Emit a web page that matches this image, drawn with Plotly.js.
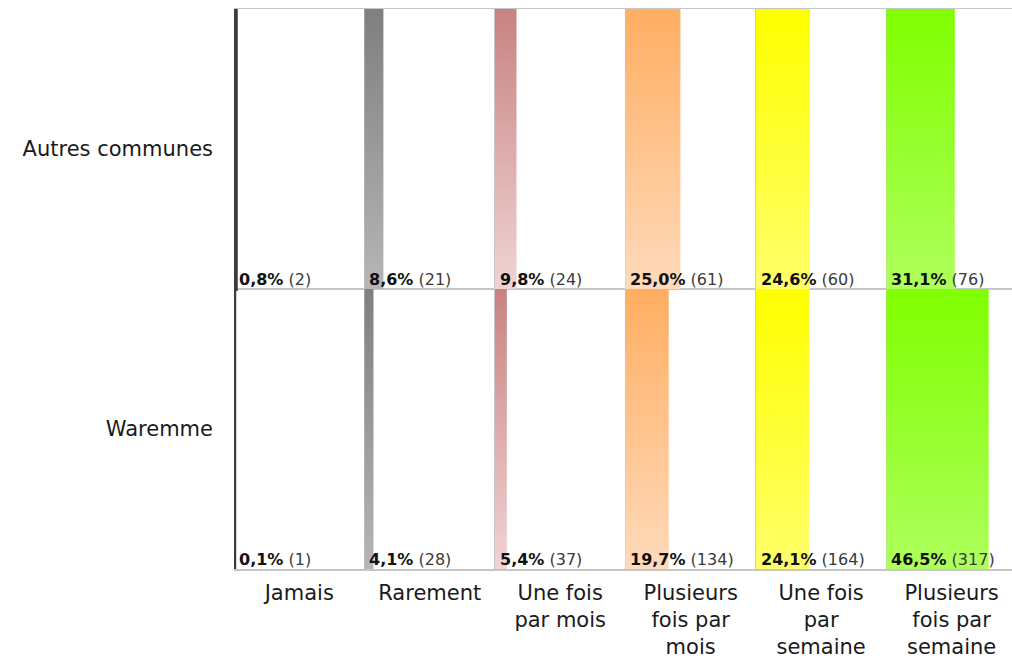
<!DOCTYPE html>
<html>
<head>
<meta charset="utf-8">
<script src="https://cdn.plot.ly/plotly-3.0.1.min.js"></script>
<style>
  html, body { margin: 0; padding: 0; background: #ffffff; }
  #chart { width: 1012px; height: 662px; }
</style>
</head>
<body>
<div id="chart"></div>
<script>
// Fréquence de réponse par groupe de communes
const categories = ['Jamais', 'Rarement', 'Une fois<br>par mois', 'Plusieurs<br>fois par<br>mois', 'Une fois<br>par<br>semaine', 'Plusieurs<br>fois par<br>semaine'];
const groups = ['Waremme', 'Autres communes'];

const pctWaremme = [0.1, 4.1, 5.4, 19.7, 24.1, 46.5];
const countWaremme = [1, 28, 37, 134, 164, 317];
const pctAutres = [0.8, 8.6, 9.8, 25.0, 24.6, 31.1];
const countAutres = [2, 21, 24, 61, 60, 76];

// gradient colours per category: [bottom, top]
const gradients = [
  ['#505050', '#3c3c3c'],
  ['#b6b6b6', '#7f7f7f'],
  ['#f0d4d4', '#c88282'],
  ['#ffdabb', '#ffae62'],
  ['#ffff6a', '#ffff00'],
  ['#aeff5c', '#80ff00']
];
// outline so that near-zero bars remain visible
const outlineWidth = [4, 0, 0, 0, 0, 0];

const COL = 59.3;          // width of one category column, in percent units
const XMAX = 353.6;        // visible extent of the x axis
const FONT = 'DejaVu Sans, Verdana, sans-serif';
const GRID = '#c6c6c6';

const rows = [
  { pct: pctWaremme, count: countWaremme, base: 0 },
  { pct: pctAutres, count: countAutres, base: 1 }
];

const traces = [];
const annotations = [];
rows.forEach(row => {
  row.pct.forEach((v, j) => {
    const x0 = j * COL;
    const y0 = row.base, y1 = row.base + 1;
    traces.push({
      type: 'scatter',
      mode: 'lines',
      x: [x0, x0 + v, x0 + v, x0, x0],
      y: [y0, y0, y1, y1, y0],
      fill: 'toself',
      fillgradient: {
        type: 'vertical',
        start: y0,
        stop: y1,
        colorscale: [[0, gradients[j][0]], [1, gradients[j][1]]]
      },
      line: { width: outlineWidth[j], color: gradients[j][1], simplify: false },
      hoverinfo: 'skip',
      showlegend: false
    });
    annotations.push({
      x: x0, y: y0, xref: 'x', yref: 'y',
      xanchor: 'left', yanchor: 'bottom',
      xshift: 3, yshift: -2,
      showarrow: false,
      align: 'left',
      text: '<b>' + v.toFixed(1).replace('.', ',') + '%</b> <span style="color:#3a3a3a">(' + row.count[j] + ')</span>',
      font: { family: FONT, size: 16, color: '#111111' }
    });
  });
});

const colEdges = categories.map((c, j) => j * COL);
const colCentres = categories.map((c, j) => (j + 0.5) * COL);

const layout = {
  width: 1012,
  height: 662,
  margin: { l: 234, r: 0, t: 9, b: 93 },
  paper_bgcolor: '#ffffff',
  plot_bgcolor: '#ffffff',
  font: { family: FONT, size: 21, color: '#1a1a1a' },
  showlegend: false,
  xaxis: {
    range: [0, XMAX],
    tickmode: 'array',
    tickvals: colCentres,
    ticktext: categories,
    showgrid: false,
    zeroline: false,
    showline: true,
    mirror: true,
    linecolor: GRID,
    linewidth: 1.5,
    ticks: '',
    ticklabelstandoff: 4,
    tickfont: { family: FONT, size: 21, color: '#1a1a1a' },
    minor: { tickmode: 'array', tickvals: colEdges, showgrid: true, gridcolor: GRID, gridwidth: 1.5, ticks: '' },
    fixedrange: true
  },
  yaxis: {
    range: [0, 2],
    tickmode: 'array',
    tickvals: [0.5, 1.5],
    ticktext: groups,
    showgrid: false,
    zeroline: false,
    showline: false,
    ticks: '',
    ticklabelstandoff: 20,
    tickfont: { family: FONT, size: 21, color: '#1a1a1a' },
    minor: { tickmode: 'array', tickvals: [0, 1, 2], showgrid: true, gridcolor: GRID, gridwidth: 1.5, ticks: '' },
    fixedrange: true
  },
  annotations: annotations
};

Plotly.newPlot('chart', traces, layout, { displayModeBar: false, staticPlot: true });
</script>
</body>
</html>
